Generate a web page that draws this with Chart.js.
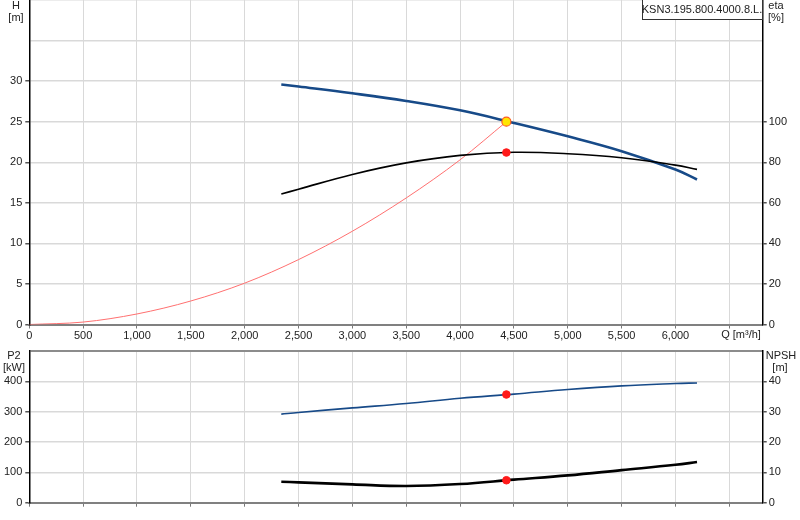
<!DOCTYPE html>
<html>
<head>
    <script src="https://cdn.jsdelivr.net/npm/chart.js@4.4.1/dist/chart.umd.min.js"></script>
    <style>
        body { margin: 0; background: #fff; }
        .wrap { position: relative; width: 800px; height: 520px; }
        .top { position: absolute; left: 0; top: 0; width: 800px; height: 345px; }
        .bottom { position: absolute; left: 0; top: 345px; width: 800px; height: 175px; }
    </style>
</head>
<body>
    <div class="wrap">
        <div class="top"><canvas id="headChart"></canvas></div>
        <div class="bottom"><canvas id="powerChart"></canvas></div>
    </div>

    <script>
        // pump curves
        const qPump = [2340, 2500, 3000, 3500, 4000, 4500, 5000, 5500, 6000, 6200];
        const headM = [29.58, 29.33, 28.5, 27.56, 26.4, 24.85, 23.2, 21.37, 19.1, 17.88];
        const etaPct = [64.3, 66.7, 74.0, 79.7, 83.4, 84.9, 84.2, 82.2, 78.6, 76.5];
        const powerKW = [291.8, 297.3, 312.5, 327, 344.4, 358, 373, 385, 392.7, 394.7];
        const npshM = [6.9, 6.7, 6.05, 5.5, 6.15, 7.6, 9.0, 10.75, 12.5, 13.4];

        // system curve
        const qSystem = [0, 500, 1000, 1500, 2000, 2500, 3000, 3500, 4000, 4430];
        const headSystem = [0, 0.3, 1.3, 2.9, 5.1, 8.0, 11.5, 15.6, 20.3, 25.0];

        // duty point
        const opQ = 4430, opH = 25.0, opEta = 84.8, opP2 = 356.6, opNpsh = 7.4;

        // axes
        const qMax = 6810, qLabelMax = 6000;
        const qTicks = [0, 500, 1000, 1500, 2000, 2500, 3000, 3500, 4000, 4500, 5000, 5500, 6000, 6500];
        const hMax = 40, hStep = 5, hLabelMax = 30;
        const etaMax = 160, etaStep = 20, etaLabelMax = 100;
        const p2Max = 500, p2Step = 100, p2LabelMax = 400;
        const npshMax = 50, npshStep = 10, npshLabelMax = 40;

        const pumpName = 'KSN3.195.800.4000.8.L.';

        Chart.defaults.font.family = 'Arial, "Liberation Sans", sans-serif';
        Chart.defaults.font.size = 11;
        Chart.defaults.color = '#222';

        const BLUE = '#174a88';
        const GRID = '#d9d9d9';

        const pts = (xs, ys) => xs.map((x, i) => ({ x: x, y: ys[i] }));

        // draws free text + name box
        const textPlugin = {
            id: 'freeText',
            afterDraw(chart, args, opts) {
                const ctx = chart.ctx;
                ctx.save();
                if (opts.box) {
                    const b = opts.box;
                    ctx.fillStyle = '#fff';
                    ctx.fillRect(b.x, b.y, b.w, b.h);
                    ctx.strokeStyle = '#333';
                    ctx.lineWidth = 1;
                    ctx.strokeRect(b.x + 0.5, b.y + 0.5, b.w, b.h);
                    ctx.fillStyle = '#222';
                    ctx.font = '11px Arial, "Liberation Sans", sans-serif';
                    ctx.textAlign = 'center';
                    ctx.textBaseline = 'middle';
                    ctx.fillText(b.text, b.x + b.w / 2, b.y + b.h / 2 + 1);
                }
                ctx.font = '11px Arial, "Liberation Sans", sans-serif';
                ctx.fillStyle = '#222';
                ctx.textAlign = 'center';
                ctx.textBaseline = 'middle';
                (opts.items || []).forEach(t => ctx.fillText(t.text, t.x, t.y));
                ctx.restore();
            }
        };

        function fixWidth(w) {
            return s => { s.width = w; s.paddingTop = 0; s.paddingBottom = 0; };
        }
        function fixHeight(h) {
            return s => { s.height = h; s.paddingLeft = 0; s.paddingRight = 0; };
        }

        function xScale(showLabels, h, borderColor) {
            return {
                type: 'linear', min: 0, max: qMax,
                afterBuildTicks: s => { s.ticks = qTicks.map(v => ({ value: v })); },
                afterFit: fixHeight(h),
                border: { color: borderColor, width: 2 },
                grid: { color: GRID, tickLength: 4, tickColor: '#777', lineWidth: 1 },
                ticks: {
                    padding: 1, maxRotation: 0, autoSkip: false,
                    display: showLabels,
                    callback: v => v > qLabelMax ? '' : v.toLocaleString('en-US')
                }
            };
        }

        function yScale(pos, max, step, labelMax, width, onArea, topColor) {
            return {
                type: 'linear', position: pos, min: 0, max: max,
                afterFit: fixWidth(width),
                border: { color: '#000', width: 1.5 },
                grid: {
                    drawOnChartArea: onArea,
                    tickLength: 4,
                    color: c => (c.tick && c.tick.value === max && topColor) ? topColor : GRID,
                    lineWidth: c => (c.tick && c.tick.value === max && topColor) ? 2 : 1.5,
                    tickColor: c => (c.tick && c.tick.value <= labelMax) ? '#555' : 'rgba(0,0,0,0)'
                },
                ticks: {
                    stepSize: step, padding: pos === 'left' ? 3 : 2, maxTicksLimit: 100,
                    callback: v => v <= labelMax ? v : ''
                }
            };
        }

        // H / eta chart
        new Chart(document.getElementById('headChart'), {
            type: 'line',
            data: {
                datasets: [{
                    label: 'duty H',
                    data: [{ x: opQ, y: opH }],
                    yAxisID: 'y',
                    pointRadius: 4.5, pointBackgroundColor: '#ffe600', pointBorderColor: '#ff5a1f', pointBorderWidth: 1.2,
                    showLine: false, order: 0
                }, {
                    label: 'duty eta',
                    data: [{ x: opQ, y: opEta }],
                    yAxisID: 'eta',
                    pointRadius: 3.8, pointBackgroundColor: '#ff1a1a', pointBorderColor: '#ff1a1a',
                    showLine: false, order: 0
                }, {
                    label: 'H',
                    data: pts(qPump, headM),
                    yAxisID: 'y',
                    borderColor: BLUE, borderWidth: 2.6, pointRadius: 0,
                    tension: 0.4, order: 2
                }, {
                    label: 'eta',
                    data: pts(qPump, etaPct),
                    yAxisID: 'eta',
                    borderColor: '#000', borderWidth: 1.6, pointRadius: 0,
                    tension: 0.4, order: 1
                }, {
                    label: 'system',
                    data: pts(qSystem, headSystem),
                    yAxisID: 'y',
                    borderColor: '#ff7070', borderWidth: 1, pointRadius: 0,
                    cubicInterpolationMode: 'monotone', order: 3
                }]
            },
            options: {
                responsive: true, maintainAspectRatio: false, animation: false,
                layout: { padding: 0, autoPadding: false },
                plugins: {
                    legend: { display: false }, tooltip: { enabled: false },
                    freeText: {
                        box: { x: 642, y: -1, w: 120, h: 20, text: pumpName },
                        items: [
                            { text: 'H', x: 16, y: 6 }, { text: '[m]', x: 16, y: 18 },
                            { text: 'eta', x: 776, y: 6 }, { text: '[%]', x: 776, y: 18 },
                            { text: 'Q [m\u00b3/h]', x: 741, y: 335 }
                        ]
                    }
                },
                scales: {
                    x: xScale(true, 20.5, '#808080'),
                    y: yScale('left', hMax, hStep, hLabelMax, 29.3, true, null),
                    eta: yScale('right', etaMax, etaStep, etaLabelMax, 37.3, false, null)
                }
            },
            plugins: [textPlugin]
        });

        // P2 / NPSH chart
        new Chart(document.getElementById('powerChart'), {
            type: 'line',
            data: {
                datasets: [{
                    label: 'duty P2',
                    data: [{ x: opQ, y: opP2 }],
                    yAxisID: 'y',
                    pointRadius: 3.8, pointBackgroundColor: '#ff1a1a', pointBorderColor: '#ff1a1a',
                    showLine: false, order: 0
                }, {
                    label: 'duty NPSH',
                    data: [{ x: opQ, y: opNpsh }],
                    yAxisID: 'npsh',
                    pointRadius: 3.8, pointBackgroundColor: '#ff1a1a', pointBorderColor: '#ff1a1a',
                    showLine: false, order: 0
                }, {
                    label: 'P2',
                    data: pts(qPump, powerKW),
                    yAxisID: 'y',
                    borderColor: BLUE, borderWidth: 1.6, pointRadius: 0,
                    tension: 0.4, order: 1
                }, {
                    label: 'NPSH',
                    data: pts(qPump, npshM),
                    yAxisID: 'npsh',
                    borderColor: '#000', borderWidth: 2.6, pointRadius: 0,
                    tension: 0.4, order: 1
                }]
            },
            options: {
                responsive: true, maintainAspectRatio: false, animation: false,
                layout: { padding: { top: 6 }, autoPadding: false },
                plugins: {
                    legend: { display: false }, tooltip: { enabled: false },
                    freeText: {
                        items: [
                            { text: 'P2', x: 14, y: 11 }, { text: '[kW]', x: 14, y: 23 },
                            { text: 'NPSH', x: 781, y: 11 }, { text: '[m]', x: 780, y: 23 }
                        ]
                    }
                },
                scales: {
                    x: xScale(false, 17.3, '#808080'),
                    y: yScale('left', p2Max, p2Step, p2LabelMax, 29.3, true, '#8c8c8c'),
                    npsh: yScale('right', npshMax, npshStep, npshLabelMax, 37.3, false, null)
                }
            },
            plugins: [textPlugin]
        });
    </script>
</body>
</html>
